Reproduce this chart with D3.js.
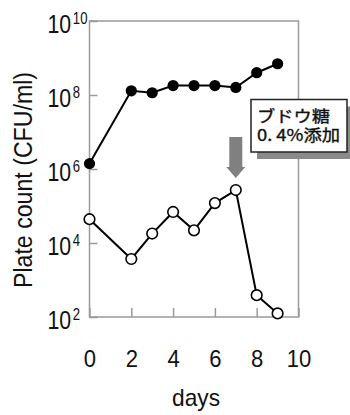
<!DOCTYPE html>
<html><head><meta charset="utf-8">
<script src="https://cdn.jsdelivr.net/npm/d3@7"></script>
<style>body{margin:0;background:#fff}svg{display:block}</style>
</head><body>
<svg id="c" width="350" height="415"></svg>
<script>
const days = [0, 2, 3, 4, 5, 6, 7, 8, 9];
const filledCounts = [1.4e6, 1.3e8, 1.15e8, 1.8e8, 1.8e8, 1.8e8, 1.6e8, 4e8, 7e8];
const openCounts = [4.4e4, 3.7e3, 1.8e4, 6.9e4, 2.2e4, 1.2e5, 2.7e5, 3.9e2, 1.25e2];
const xTicks = [0, 2, 4, 6, 8, 10];
const yTicks = [1e2, 1e4, 1e6, 1e8, 1e10];
const yExponents = ["2", "4", "6", "8", "10"];
const noteLines = ["ブドウ糖", "0. 4%添加"];
const additionDay = 7;

const svg = d3.select("#c");
const L = 89.5, R = 298.5, T = 21, B = 317;
const x = d3.scaleLinear().domain([0, 10]).range([L, R]);
const y = d3.scaleLog().domain([1e2, 1e10]).range([B, T]);
const frameCol = "#9a9a9a";
const font = "Liberation Sans, Arial, sans-serif";

// frame
svg.append("rect").attr("x", L).attr("y", T).attr("width", R - L).attr("height", B - T)
  .attr("fill", "none").attr("stroke", frameCol).attr("stroke-width", 1.5);

// x axis ticks (inward)
const gx = svg.append("g").attr("transform", `translate(0,${B})`)
  .call(d3.axisBottom(x).tickValues(xTicks).tickSize(-9).tickFormat(""));
gx.select(".domain").remove();
gx.selectAll(".tick text").remove();
gx.selectAll(".tick line").attr("stroke", frameCol).attr("stroke-width", 1.5);
gx.selectAll(".tick").append("g")
  .attr("transform", "translate(0,50) scale(0.92,1)")
  .append("text").attr("text-anchor", "middle")
  .attr("font-family", font).attr("font-size", 24)
  .attr("fill", "#111").text(d => d);

// y axis ticks (inward)
const gy = svg.append("g").attr("transform", `translate(${L},0)`)
  .call(d3.axisLeft(y).tickValues(yTicks).tickSize(-8).tickFormat(""));
gy.select(".domain").remove();
gy.selectAll(".tick text").remove();
gy.selectAll(".tick line").attr("stroke", frameCol).attr("stroke-width", 1.5);
gy.selectAll(".tick").each(function(d, i) {
  const g = d3.select(this).append("g")
    .attr("transform", `translate(${47.5 - L},11.7) scale(0.82,1)`);
  const t = g.append("text").attr("text-anchor", "start").attr("font-family", font)
    .attr("fill", "#111");
  t.append("tspan").attr("font-size", 26).text("10");
  t.append("tspan").attr("font-size", 16).attr("dx", 2).attr("dy", -9.5).text(yExponents[i]);
});

// axis titles
svg.append("text").attr("transform", "translate(31.5,180) rotate(-90)")
  .attr("text-anchor", "middle").attr("font-family", font)
  .attr("font-size", 25).attr("fill", "#111")
  .attr("textLength", 216).attr("lengthAdjust", "spacingAndGlyphs")
  .text("Plate count (CFU/ml)");
svg.append("text").attr("x", 196).attr("y", 406).attr("text-anchor", "middle")
  .attr("font-family", font).attr("font-size", 24)
  .attr("fill", "#111").attr("textLength", 48).attr("lengthAdjust", "spacingAndGlyphs")
  .text("days");

// series
const line = d3.line().x(d => x(d[0])).y(d => y(d[1]));
const filled = days.map((d, i) => [d, filledCounts[i]]);
const open = days.map((d, i) => [d, openCounts[i]]);
[filled, open].forEach(s => svg.append("path").datum(s).attr("d", line)
  .attr("fill", "none").attr("stroke", "#000").attr("stroke-width", 2));
svg.selectAll("circle.f").data(filled).join("circle").attr("class", "f")
  .attr("cx", d => x(d[0])).attr("cy", d => y(d[1])).attr("r", 5.6).attr("fill", "#000");
svg.selectAll("circle.o").data(open).join("circle").attr("class", "o")
  .attr("cx", d => x(d[0])).attr("cy", d => y(d[1])).attr("r", 5.3)
  .attr("fill", "#fff").attr("stroke", "#000").attr("stroke-width", 1.6);

// arrow
const ax = x(additionDay), tip = y(openCounts[days.indexOf(additionDay)]) - 12;
svg.append("path").attr("fill", "#808080")
  .attr("d", `M${ax-6.5},${tip-41}L${ax+6.5},${tip-41}L${ax+6.5},${tip-11}L${ax+9.5},${tip-11}L${ax},${tip}L${ax-9.5},${tip-11}L${ax-6.5},${tip-11}Z`);

// note box
const bx = 251, by = 99.5, bw = 96, bh = 52.5;
svg.append("rect").attr("x", bx + 6).attr("y", by + 7).attr("width", bw).attr("height", bh).attr("fill", "#8a8a8a");
svg.append("rect").attr("x", bx).attr("y", by).attr("width", bw).attr("height", bh)
  .attr("fill", "#fff").attr("stroke", "#222").attr("stroke-width", 1.5);
const note = svg.append("text").attr("font-family", "Noto Sans CJK JP, sans-serif")
  .attr("font-size", 16).attr("fill", "#111").attr("stroke", "#111").attr("stroke-width", 0.35);
note.append("tspan").attr("x", 257).attr("y", 121.5)
  .attr("textLength", 73).attr("lengthAdjust", "spacingAndGlyphs").text(noteLines[0]);
note.append("tspan").attr("x", 257).attr("y", 140.5)
  .attr("textLength", 83).attr("lengthAdjust", "spacingAndGlyphs").text(noteLines[1]);
</script>
</body></html>
